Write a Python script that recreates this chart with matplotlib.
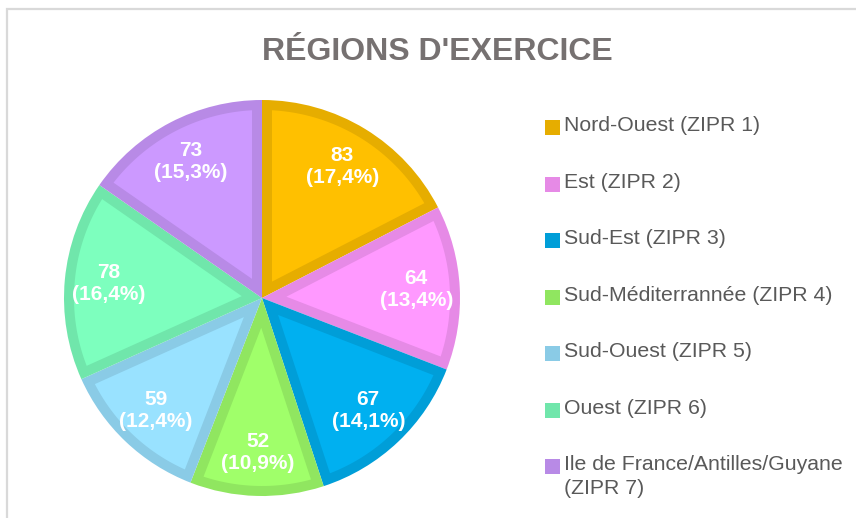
import matplotlib
matplotlib.use('Agg')
import numpy as np
import matplotlib.pyplot as plt
from matplotlib.patches import Rectangle, Polygon

plt.rcParams['font.family'] = ['Liberation Sans Narrow', 'Arial Narrow', 'Liberation Sans', 'DejaVu Sans']

# data
regions = ["Nord-Ouest (ZIPR 1)", "Est (ZIPR 2)", "Sud-Est (ZIPR 3)",
           "Sud-Méditerrannée (ZIPR 4)", "Sud-Ouest (ZIPR 5)", "Ouest (ZIPR 6)",
           "Ile de France/Antilles/Guyane\n(ZIPR 7)"]
counts = [83, 64, 67, 52, 59, 78, 73]
pct_labels = ["17,4%", "13,4%", "14,1%", "10,9%", "12,4%", "16,4%", "15,3%"]
fills = ['#FFC000', '#FF99FF', '#00B0F0', '#A0FF6A', '#99E2FF', '#7DFFBE', '#CC99FF']
edges = ['#E6AD00', '#E68AE6', '#009ED8', '#90E660', '#8ACBE6', '#70E6AB', '#B88AE6']

W, H = 856, 518
fig = plt.figure(figsize=(W / 100, H / 100), dpi=100)

# chart frame (cut off on right and bottom)
fig.patches.append(Rectangle((6.5 / W, -0.1), 1.2, (H - 9.5) / H + 0.1,
                             transform=fig.transFigure, fill=False,
                             edgecolor='#D9D9D9', linewidth=1.6))

cx, cy, r = 262, 298, 198
ax = fig.add_axes([(cx - r) / W, (H - cy - r) / H, 2 * r / W, 2 * r / H])
# outer wedges in the darker border colour
wedges, _ = ax.pie(counts, colors=edges, startangle=90, counterclock=False,
                   radius=1.0, wedgeprops=dict(linewidth=0))
ax.set_xlim(-1, 1)
ax.set_ylim(-1, 1)
ax.set_aspect('equal')
ax.axis('off')

# inner lighter fill, inset by the border width
d = 10.0 / r
for w, fc in zip(wedges, fills):
    t1, t2 = np.deg2rad(w.theta1), np.deg2rad(w.theta2)
    half = (t2 - t1) / 2
    mid = (t1 + t2) / 2
    apex = (d / np.sin(half)) * np.array([np.cos(mid), np.sin(mid)])
    rho = 1.0 - d
    da = np.arcsin(d / rho)
    arc = np.linspace(t1 + da, t2 - da, 60)
    pts = np.vstack([apex, np.column_stack([rho * np.cos(arc), rho * np.sin(arc)])])
    ax.add_patch(Polygon(pts, closed=True, facecolor=fc, edgecolor='none'))

for w, n, p in zip(wedges, counts, pct_labels):
    ang = np.deg2rad((w.theta1 + w.theta2) / 2)
    x, y = 0.78 * np.cos(ang), 0.78 * np.sin(ang)
    ax.text(x, y, f"{n}\n({p})", ha='center', va='center', color='white',
            fontsize=15, fontweight='bold', linespacing=1.2)

fig.text(437 / W, 1 - 52 / H, "RÉGIONS D'EXERCICE", ha='center', va='center',
         fontsize=23, fontweight='bold', color='#767171')

# legend
rows = [127, 184, 240, 297, 353, 410, 466]
for yy, lab, ec in zip(rows, regions, edges):
    fig.patches.append(Rectangle((545 / W, 1 - (yy + 8) / H), 15 / W, 15 / H,
                                 transform=fig.transFigure, facecolor=ec,
                                 edgecolor='none'))
    fig.text(564 / W, 1 - (yy - 11) / H, lab, ha='left', va='top',
             fontsize=15.3, color='#595959', linespacing=1.3)

fig.savefig('out.png', dpi=100)
